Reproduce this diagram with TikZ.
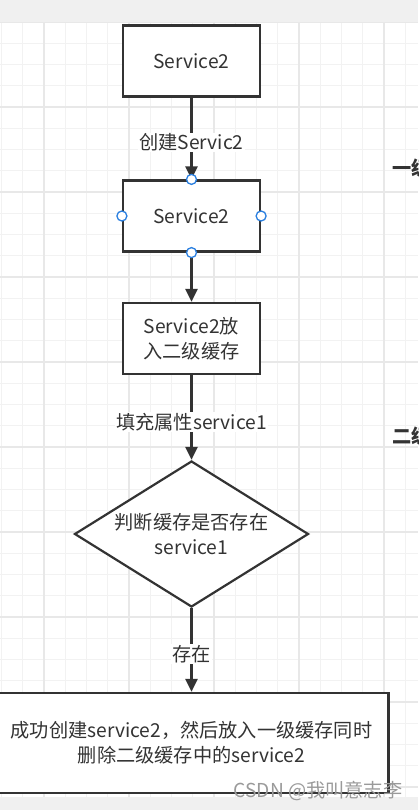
\documentclass[tikz,border=0pt]{standalone}
\usepackage{fontspec}
\setmainfont{Noto Sans CJK SC}
\usetikzlibrary{shapes.geometric,arrows.meta}
\definecolor{ink}{HTML}{333333}
\definecolor{gridminor}{HTML}{F2F2F2}
\definecolor{gridmajor}{HTML}{E8E8E8}
\definecolor{barcol}{HTML}{F0F0F0}
\definecolor{handle}{HTML}{2A7FE0}
\definecolor{wmcol}{HTML}{9A9A9A}
\newcommand\myfs{\fontsize{19.2}{25}\selectfont}
\tikzset{
  minorline/.style={draw=gridminor, line width=1pt},
  majorline/.style={draw=gridmajor, line width=1.4pt},
  box/.style={draw=ink, line width=2.2pt, fill=white, minimum width=137, minimum height=71, inner sep=0, align=center, font=\myfs, text=ink},
  bigbox/.style={box, minimum width=394, minimum height=100},
  decision/.style={diamond, draw=ink, line width=2.2pt, fill=white, minimum width=234, minimum height=146, inner sep=0},
  dtext/.style={align=center, font=\myfs, text=ink},
  conn/.style={draw=ink, line width=2.5pt, -{Triangle[length=13pt,width=12pt]}},
  lbl/.style={fill=white, font=\myfs, text=ink, inner xsep=1pt, inner ysep=1pt},
  handlept/.style={circle, draw=handle, fill=white, line width=1.3pt, minimum size=10, inner sep=0},
  side/.style={font=\myfs\bfseries, text=ink, anchor=west, inner sep=0},
  wm/.style={font=\myfs, text=wmcol, inner sep=0}
}
\begin{document}
\begin{tikzpicture}[x=1pt,y=-1pt]
\useasboundingbox (0,0) rectangle (418,810);
\clip (0,0) rectangle (418,810);
\fill[white] (0,0) rectangle (418,810);
% grid
\foreach \i in {-2,...,17} \draw[minorline] ({44+21.25*\i},22) -- ({44+21.25*\i},797);
\foreach \j in {0,...,37} \draw[minorline] (0,{22+21.25*\j}) -- (418,{22+21.25*\j});
\foreach \i in {0,...,4} \draw[majorline] ({44+85*\i},22) -- ({44+85*\i},797);
\foreach \j in {0,...,9} \draw[majorline] (0,{22+85*\j}) -- (418,{22+85*\j});
\fill[barcol] (0,0) rectangle (418,22);
\fill[barcol] (0,797) rectangle (418,810);

% nodes
\node[box] (b1) at (191.5,61) {Service2};
\node[box] (b2) at (191.5,216) {Service2};
\node[box] (b3) at (191.5,338.5) {Service2放\\入二级缓存};
\node[decision, label={[dtext]center:判断缓存是否存在\\service1}] (d) at (191.5,534) {};
\node[bigbox] (f) at (191.5,743) {成功创建service2，然后放入一级缓存同时\\删除二级缓存中的service2};

% side texts (cut off at the right edge, as in the reference)
\node[side] (s1) at (392,168) {一级};
\node[side] (s2) at (392,436) {二级};

% connectors
\draw[conn] (b1) -- node[lbl, pos=0.55] (l1) {创建Servic2} (b2);
\draw[conn] (b2) -- (b3);
\draw[conn] (b3) -- node[lbl, pos=0.55] (l2) {填充属性service1} (d);
\draw[conn] (d) -- node[lbl, pos=0.55] (l3) {存在} (f);

% selection handles
\node[handlept] (h1) at (b2.north) {};
\node[handlept] (h2) at (b2.south) {};
\node[handlept] (h3) at (b2.west) {};
\node[handlept] (h4) at (b2.east) {};

% watermark
\node[wm] (wm) at (318,791) {CSDN @我叫意志李};
\end{tikzpicture}
\end{document}
